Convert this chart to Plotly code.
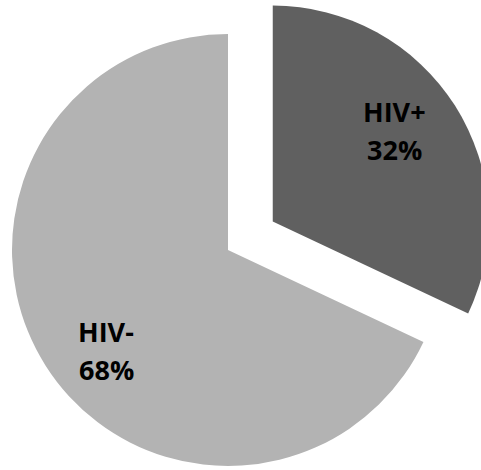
import math
import plotly.graph_objects as go

# Share of patients by HIV status
labels = ["HIV+", "HIV-"]
values = [32, 68]
colors = ["#606060", "#b3b3b3"]

# Figure and pie geometry (pixels)
W, H = 490, 470
CX, CY = 228, 250          # centre of the pie
R = 216                    # pie radius
PULL = 53                  # how far the HIV+ slice is pulled out

total = sum(values)
mid_deg = values[0] / total * 360 / 2      # mid-angle of HIV+ slice, clockwise from 12 o'clock
dx = PULL * math.sin(math.radians(mid_deg))
dy = -PULL * math.cos(math.radians(mid_deg))


def domain(cx, cy):
    return dict(x=[(cx - R) / W, (cx + R) / W],
                y=[1 - (cy + R) / H, 1 - (cy - R) / H])


clear = "rgba(0,0,0,0)"
fig = go.Figure()

# Body of the pie: HIV- slice (HIV+ slot left empty)
fig.add_trace(go.Pie(
    labels=labels, values=values, sort=False, direction="clockwise", rotation=0,
    marker=dict(colors=[clear, colors[1]], line=dict(width=0)),
    textinfo="none", hoverinfo="label+percent", domain=domain(CX, CY),
))

# Exploded HIV+ slice
fig.add_trace(go.Pie(
    labels=labels, values=values, sort=False, direction="clockwise", rotation=0,
    marker=dict(colors=[colors[0], clear], line=dict(width=0)),
    textinfo="none", hoverinfo="label+percent", domain=domain(CX + dx, CY + dy),
))

# Slice labels: name on one line, percentage on the next
label_px = [(394, 130), (106, 350)]
LINE_GAP = 38
label_font = dict(family="Open Sans", size=27, weight="bold", color="#000000")
for name, v, (px, py) in zip(labels, values, label_px):
    for line, oy in ((name, -LINE_GAP / 2), (f"{round(v / total * 100)}%", LINE_GAP / 2)):
        fig.add_annotation(
            x=px / W, y=1 - (py + oy) / H, xref="paper", yref="paper",
            xanchor="center", yanchor="middle", showarrow=False,
            text=line, font=label_font,
        )

fig.update_layout(
    width=W, height=H, margin=dict(l=0, r=0, t=0, b=0),
    paper_bgcolor="white", plot_bgcolor="white", showlegend=False,
)

fig.write_html(
    "out.html",
    post_script="document.documentElement.style.overflow='hidden';"
                "document.body.style.overflow='hidden';",
)
